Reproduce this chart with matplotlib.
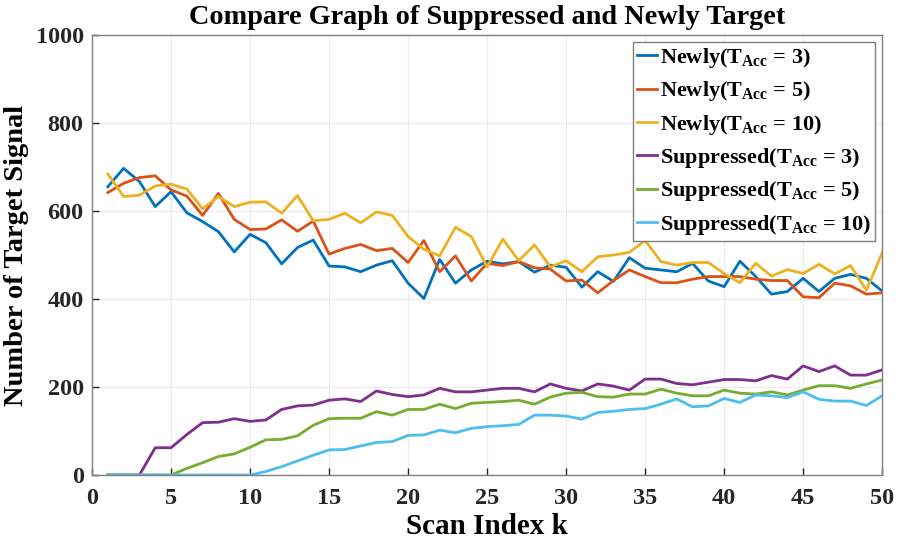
import matplotlib
matplotlib.use("Agg")
import matplotlib.pyplot as plt
import numpy as np

plt.rcParams['font.family'] = ['Liberation Serif', 'DejaVu Serif']
plt.rcParams['font.weight'] = 'bold'
plt.rcParams['mathtext.fontset'] = 'custom'
plt.rcParams['mathtext.rm'] = 'Liberation Serif:bold'
plt.rcParams['mathtext.bf'] = 'Liberation Serif:bold'
plt.rcParams['mathtext.it'] = 'Liberation Serif:bold'

k = list(range(1, 51))

newly_3 = [655, 697, 667, 610, 644, 596, 576, 553, 507, 547, 528, 480, 517, 534, 475,
           473, 462, 477, 487, 436, 401, 490, 436, 466, 486, 480, 485, 461, 477, 472,
           427, 462, 440, 494, 470, 466, 462, 481, 441, 428, 486, 451, 411, 417, 447,
           417, 447, 456, 447, 418]
newly_5 = [642, 663, 676, 680, 648, 634, 590, 640, 581, 558, 559, 580, 554, 577, 502,
           515, 524, 510, 515, 483, 533, 462, 498, 441, 481, 476, 485, 471, 468, 441,
           443, 414, 442, 466, 451, 437, 437, 445, 451, 451, 451, 445, 442, 442, 405,
           403, 436, 430, 411, 414]
newly_10 = [684, 633, 636, 657, 661, 650, 605, 633, 610, 620, 621, 595, 635, 578, 581,
            595, 573, 598, 590, 542, 513, 498, 563, 542, 473, 536, 487, 523, 473, 487,
            462, 496, 500, 506, 533, 485, 477, 483, 483, 458, 437, 481, 452, 467, 458,
            479, 457, 476, 420, 505]
supp_3 = [0, 0, 0, 62, 62, 92, 119, 120, 128, 122, 125, 149, 157, 159, 170,
          173, 167, 191, 183, 178, 182, 197, 189, 189, 193, 197, 197, 189, 207, 197,
          191, 207, 202, 193, 218, 218, 208, 205, 211, 217, 217, 214, 226, 218, 248,
          235, 248, 227, 227, 239]
supp_5 = [0, 0, 0, 0, 0, 15, 28, 42, 48, 63, 80, 81, 89, 113, 128,
          129, 129, 144, 136, 149, 149, 161, 151, 163, 165, 167, 170, 161, 177, 186,
          188, 178, 177, 184, 184, 195, 186, 180, 180, 193, 186, 184, 189, 182, 193,
          203, 203, 197, 207, 216]
supp_10 = [0, 0, 0, 0, 0, 0, 0, 0, 0, 0, 8, 19, 32, 45, 57,
           58, 66, 74, 76, 90, 91, 102, 96, 106, 110, 112, 115, 136, 136, 134,
           127, 142, 145, 149, 151, 161, 173, 155, 157, 174, 165, 182, 180, 176, 189,
           172, 168, 168, 158, 180]

labels = [r'Newly(T$_{\mathbf{Acc}}$ = 3)', r'Newly(T$_{\mathbf{Acc}}$ = 5)',
          r'Newly(T$_{\mathbf{Acc}}$ = 10)', r'Suppressed(T$_{\mathbf{Acc}}$ = 3)',
          r'Suppressed(T$_{\mathbf{Acc}}$ = 5)', r'Suppressed(T$_{\mathbf{Acc}}$ = 10)']
colors = ['#0072BD', '#D95319', '#EDB120', '#7E2F8E', '#77AC30', '#4DBEEE']
series = [newly_3, newly_5, newly_10, supp_3, supp_5, supp_10]

fig = plt.figure(figsize=(9.02, 5.42), dpi=100)
ax = fig.add_axes([0.102, 0.1236, 0.876, 0.8118])

for s, c, l in zip(series, colors, labels):
    ax.plot(k, s, color=c, lw=2, label=l)

ax.set_xlim(0, 50)
ax.set_ylim(0, 1000)
ax.set_xticks(np.arange(0, 51, 5))
ax.set_yticks(np.arange(0, 1001, 200))
ax.grid(True, color='#ebebeb', lw=0.8)
ax.set_axisbelow(True)
for sp in ax.spines.values():
    sp.set_color('#7f7f7f')
    sp.set_linewidth(1.0)
ax.tick_params(direction='in', length=5, colors='#262626', labelsize=17.5, width=1)
ax.tick_params(axis='x', pad=9)
ax.tick_params(axis='y', pad=6)
for t in ax.get_xticklabels() + ax.get_yticklabels():
    t.set_fontweight('bold')

ax.set_title('Compare Graph of Suppressed and Newly Target', fontsize=20.3,
             fontweight='bold', pad=8)
ax.set_xlabel('Scan Index k', fontsize=21, fontweight='bold', labelpad=3)
ax.set_ylabel('Number of Target Signal', fontsize=20.5, fontweight='bold', labelpad=5)

leg = ax.legend(loc='upper right', fontsize=16, handlelength=0.9, handletextpad=0.12,
                borderaxespad=0.3, labelspacing=0.42, fancybox=False, framealpha=1,
                borderpad=0.2)
leg.get_frame().set_edgecolor('#7f7f7f')
leg.get_frame().set_linewidth(1.0)

fig.savefig('out.png', dpi=100)
